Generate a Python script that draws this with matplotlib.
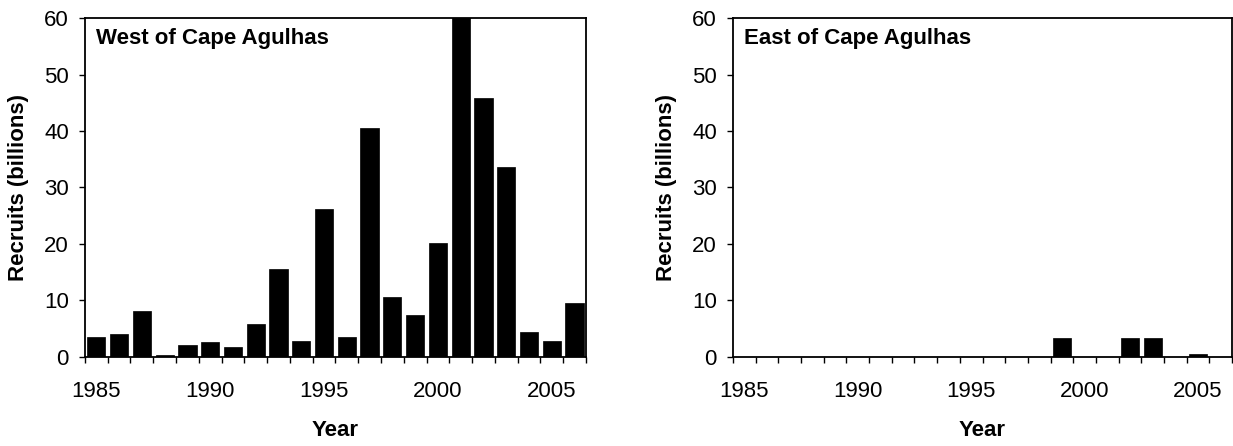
import numpy as np
import matplotlib
matplotlib.use('Agg')
import matplotlib.pyplot as plt
from matplotlib.ticker import MultipleLocator

plt.rcParams['font.family'] = ['Liberation Sans', 'DejaVu Sans']

years = list(range(1985, 2007))
# West of Cape Agulhas (2001 runs off the top of the axis)
west = [3.6, 4.0, 8.2, 0.4, 2.2, 2.6, 1.8, 5.8, 15.6, 2.9, 26.2,
        3.6, 40.6, 10.6, 7.5, 20.2, 63.0, 45.9, 33.6, 4.4, 2.9, 9.6]
# East of Cape Agulhas
east = [0, 0, 0, 0, 0, 0, 0, 0, 0, 0, 0,
        0, 0, 0, 3.3, 0, 0, 3.3, 3.3, 0, 0.5, 0]
year_labels = [1985, 1990, 1995, 2000, 2005]
panel_titles = ['West of Cape Agulhas', 'East of Cape Agulhas']

fs = 16

fig = plt.figure(figsize=(12.33, 4.46), dpi=100)
ax1 = fig.add_axes([0.0689, 0.1996, 0.4063, 0.760])
ax2 = fig.add_axes([0.5945, 0.1996, 0.4047, 0.760])

for ax, vals, title in zip([ax1, ax2], [west, east], panel_titles):
    ax.bar(years, vals, width=0.8, color='black', edgecolor='black', linewidth=0.5)
    ax.set_xlim(years[0] - 0.5, years[-1] + 0.5)
    ax.set_ylim(0, 60)

    # ticks at category boundaries, labels at category centres
    ax.set_xticks(np.arange(years[0] - 0.5, years[-1] + 1.0, 1.0))
    ax.set_xticklabels([])
    ax.set_xticks(year_labels, minor=True)
    ax.set_xticklabels([str(y) for y in year_labels], minor=True, fontsize=fs)
    ax.tick_params(axis='x', which='major', direction='out', length=4.6, width=1.0)
    ax.tick_params(axis='x', which='minor', length=0, pad=17)

    ax.yaxis.set_major_locator(MultipleLocator(10))
    ax.tick_params(axis='y', direction='out', length=4.6, width=1.0, pad=7, labelsize=fs)

    for s in ax.spines.values():
        s.set_linewidth(1.3)

    ax.set_xlabel('Year', fontsize=fs, fontweight='bold')
    ax.xaxis.set_label_coords(0.5, -0.185)
    ax.set_ylabel('Recruits (billions)', fontsize=fs, fontweight='bold')
    ax.yaxis.set_label_coords(-0.112, 0.5)

    ax.annotate(title, xy=(0, 1), xycoords='axes fraction', xytext=(8, -7),
                textcoords='offset points', ha='left', va='top',
                fontsize=fs, fontweight='bold')

plt.savefig('out.png', dpi=100)
plt.close(fig)
